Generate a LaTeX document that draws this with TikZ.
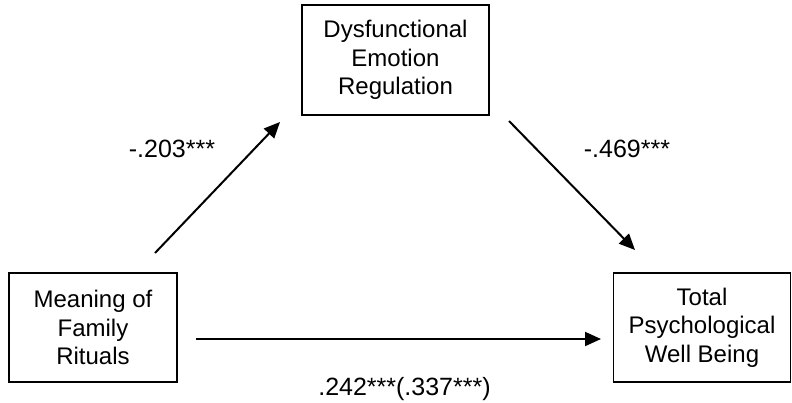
\documentclass[tikz,border=0pt]{standalone}
\usepackage{fontspec}
\setmainfont{Liberation Sans}
\usetikzlibrary{arrows.meta}

\begin{document}
\begin{tikzpicture}[x=1pt,y=1pt]
\tikzstyle{every node}+=[inner sep=0pt]
\tikzstyle{box}=[draw=black,line width=1.8pt,align=center,font=\fontsize{24}{28.5}\selectfont]
\tikzstyle{arr}=[line width=2pt,-{Triangle[length=16pt,width=14pt]}]
\tikzstyle{lbl}=[anchor=base,font=\fontsize{25}{28}\selectfont]
\useasboundingbox (0,0) rectangle (792,-402);
% boxes
\node [box,minimum width=187pt,minimum height=110pt] (der) at (395.5,-60) {Dysfunctional\\Emotion\\Regulation};
\node [box,minimum width=168pt,minimum height=109pt] (mfr) at (93,-327.5) {Meaning of\\Family\\Rituals};
\node [box,minimum width=177pt,minimum height=109pt] (tpw) at (702,-327.5) {Total\\Psychological\\Well Being};
% arrow ends
\coordinate (a1) at (155,-253);
\coordinate (a2) at (280,-122);
\coordinate (c1) at (509,-121);
\coordinate (c2) at (635,-250);
\coordinate (h1) at (196,-339);
\coordinate (h2) at (601,-339);
\draw [arr] (a1) -- (a2);
\draw [arr] (c1) -- (c2);
\draw [arr] (h1) -- (h2);
% coefficients
\node [lbl] (la) at (172,-157) {-.203***};
\node [lbl] (lc) at (627,-157) {-.469***};
\node [lbl] (lh) at (404.5,-395) {.242***(.337***)};
\end{tikzpicture}
\end{document}
